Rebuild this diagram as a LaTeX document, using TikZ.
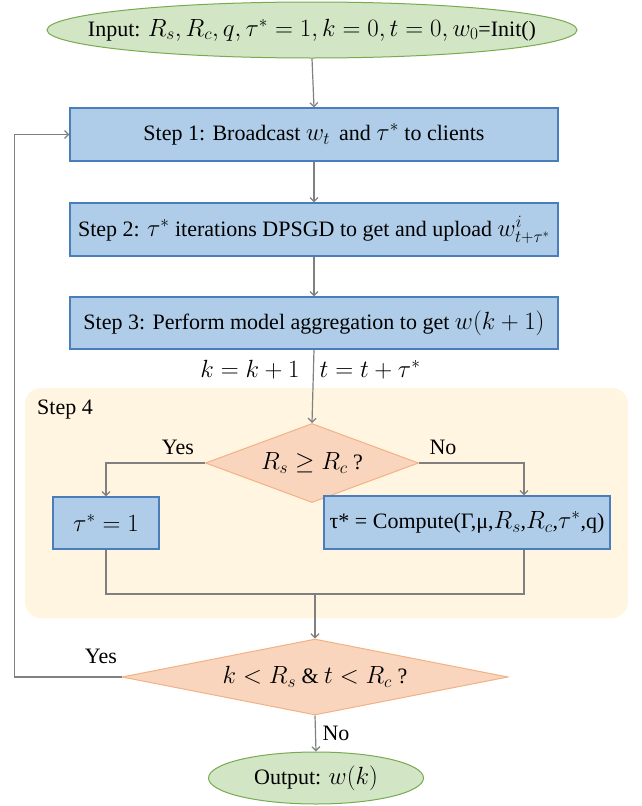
\documentclass[tikz,border=0pt]{standalone}
\usepackage{fontspec}
\setmainfont{Liberation Serif}
\DeclareMathSizes{22}{23.5}{17}{13}
\usetikzlibrary{shapes.geometric,arrows.meta}
\definecolor{boxfill}{RGB}{175,205,232}
\definecolor{boxline}{RGB}{74,126,187}
\definecolor{ellfill}{RGB}{210,229,197}
\definecolor{ellline}{RGB}{120,170,80}
\definecolor{diafill}{RGB}{248,213,188}
\definecolor{dialine}{RGB}{244,177,131}
\definecolor{bgfill}{RGB}{255,245,225}
\definecolor{conn}{RGB}{128,128,128}
\tikzset{
  stepbox/.style={draw=boxline, fill=boxfill, line width=1.2pt, inner sep=0pt, minimum height=53pt},
  term/.style={ellipse, draw=ellline, fill=ellfill, line width=1pt, inner sep=0pt},
  decide/.style={diamond, draw=dialine, fill=diafill, line width=1pt, inner sep=0pt},
  link/.style={draw=conn, line width=1.2pt},
  arr/.style={link, -{Straight Barb[length=4pt,width=8pt]}},
  lbl/.style={inner sep=0pt}
}
\begin{document}
\begin{tikzpicture}[x=1pt,y=-1pt,font=\fontsize{22}{26}\selectfont]
\useasboundingbox (0,0) rectangle (641,806);
% Step 4 background
\fill[bgfill, rounded corners=16pt] (25,388) rectangle (628,618);
\node[lbl, anchor=west] (s4) at (37,410) {Step 4};

\node[term, inner xsep=-45pt, minimum width=530pt, minimum height=56pt] (in) at (312,30)
  {Input: $R_s, R_c, q, \tau^* = 1, k = 0, t = 0, w_0$=Init()};
\node[stepbox, minimum width=488pt] (b1) at (314,134.5)
  {Step 1: Broadcast $w_t$\, and $\tau^*$ to clients};
\node[stepbox, minimum width=488pt] (b2) at (314,229.5)
  {Step 2: $\tau^*$ iterations DPSGD to get and upload $w^{i}_{t+\tau^*}$};
\node[stepbox, minimum width=488pt, minimum height=52pt] (b3) at (314,323)
  {Step 3: Perform model aggregation to get $w(k+1)$};
\node[lbl] (kk) at (250,370) {$k = k + 1$};
\node[lbl] (tt) at (370,370) {$t = t + \tau^*$};

\node[decide, aspect=2.7, minimum width=213pt, minimum height=79pt] (d1) at (312,463)
  {$R_s \geq R_c$ ?};
\node[stepbox, minimum width=106pt, minimum height=52pt] (tau) at (106,523)
  {$\tau^* = 1$};
\node[stepbox, minimum width=286pt, minimum height=53pt] (comp) at (467,522.5)
  {τ* = Compute(Γ,μ,$R_s$,$R_c$,$\tau^*$,q)};
\node[lbl] (y1) at (178,447) {Yes};
\node[lbl] (n1) at (443,447) {No};

\node[decide, aspect=5, minimum width=386pt, minimum height=76pt] (d2) at (315,677)
  {$k < R_s$ \& $t < R_c$ ?};
\node[lbl] (y2) at (101,656) {Yes};
\node[lbl] (n2) at (336,733) {No};
\node[term, minimum width=215pt, minimum height=52pt] (out) at (316,778)
  {Output: $w(k)$};

\coordinate (m1) at (106,594);
\coordinate (m2) at (524,594);
\coordinate (mc) at (315,594);
\coordinate (lp) at (14.5,677);
\coordinate (lq) at (14.5,134.5);

\draw[arr] (in.south) -- (b1.north);
\draw[arr] (b1.south) -- (b2.north);
\draw[arr] (b2.south) -- (b3.north);
\draw[arr] (b3.south) -- (d1.north);
\draw[arr] (d1.west) -| (tau.north);
\draw[arr] (d1.east) -| (comp.north -| m2);
\draw[link] (tau.south) -- (m1) -- (m2) -- (comp.south -| m2);
\draw[arr] (mc) -- (d2.north);
\draw[arr] (d2.west) -- (lp) -- (lq) -- (b1.west);
\draw[arr] (d2.south) -- (out.north);
\end{tikzpicture}
\end{document}
